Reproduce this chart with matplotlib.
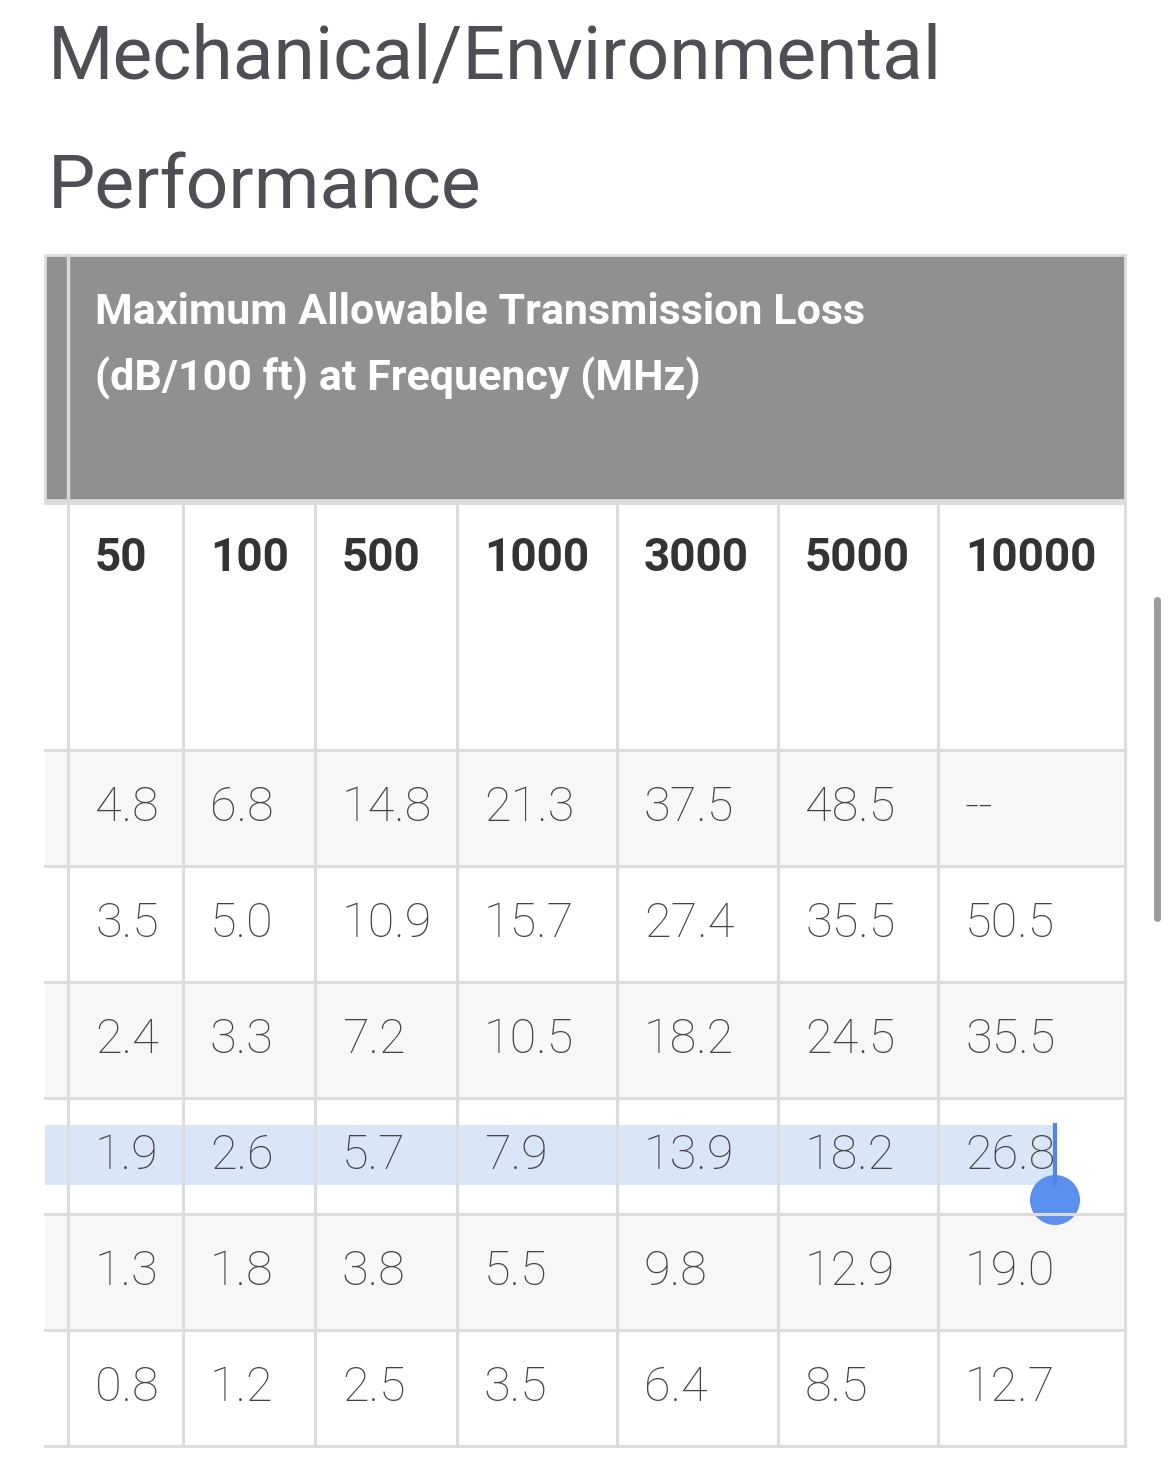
import matplotlib.pyplot as plt
from matplotlib.patches import Rectangle, Circle

# --------------------------
# Dados da tabela
# --------------------------
TITLE_LINES = ["Mechanical/Environmental", "Performance"]
HEADER_LINES = ["Maximum Allowable Transmission Loss", "(dB/100 ft) at Frequency (MHz)"]
FREQS = ["50", "100", "500", "1000", "3000", "5000", "10000"]
ROW1 = ["4.8", "6.8", "14.8", "21.3", "37.5", "48.5", "--"]
ROW2 = ["3.5", "5.0", "10.9", "15.7", "27.4", "35.5", "50.5"]
ROW3 = ["2.4", "3.3", "7.2", "10.5", "18.2", "24.5", "35.5"]
ROW4 = ["1.9", "2.6", "5.7", "7.9", "13.9", "18.2", "26.8"]
ROW5 = ["1.3", "1.8", "3.8", "5.5", "9.8", "12.9", "19.0"]
ROW6 = ["0.8", "1.2", "2.5", "3.5", "6.4", "8.5", "12.7"]
ROWS = [ROW1, ROW2, ROW3, ROW4, ROW5, ROW6]

# layout (pixels)
W, H = 1170, 1468
COL_X = [68, 183, 315, 457, 617, 778, 938, 1125]
LEFT = 45
ROW_Y = [750, 866, 982, 1098, 1214, 1330, 1446]
GRID = "#dcdcdc"
TXT = "#444444"

fig = plt.figure(figsize=(W / 100, H / 100), dpi=100)
ax = fig.add_axes([0, 0, 1, 1])
ax.set_xlim(0, W)
ax.set_ylim(H, 0)
ax.axis("off")

ax.text(48, 58, TITLE_LINES[0], fontsize=54, family="Roboto", color="#4d4f55", va="center")
ax.text(48, 188, TITLE_LINES[1], fontsize=54, family="Roboto", color="#4d4f55", va="center")

# cabeçalho cinza
ax.add_patch(Rectangle((LEFT, 255), 1125 - LEFT, 245, facecolor="#8f908f", edgecolor=GRID, lw=2))
ax.plot([68, 68], [255, 500], color="#d8d8d8", lw=2.5)
ax.text(95, 312, HEADER_LINES[0], fontsize=31, family="Roboto", weight="bold", color="white", va="center")
ax.text(95, 378, HEADER_LINES[1], fontsize=31, family="Roboto", weight="bold", color="white", va="center")

# linha de frequências
ax.add_patch(Rectangle((LEFT, 503), 1125 - LEFT, 247, facecolor="white", edgecolor="none"))
for i, f in enumerate(FREQS):
    ax.text(COL_X[i] + 27, 558, f, fontsize=33, family="Roboto", weight="bold", color="#333333", va="center")

# linhas de dados
for r, row in enumerate(ROWS):
    y0, y1 = ROW_Y[r], ROW_Y[r + 1]
    bg = "#f7f7f7" if r % 2 == 0 else "white"
    ax.add_patch(Rectangle((LEFT, y0), 1125 - LEFT, y1 - y0, facecolor=bg, edgecolor="none"))
    if r == 3:
        ax.add_patch(Rectangle((LEFT, 1125), 1055 - LEFT, 60, facecolor="#d8e6f8", edgecolor="none"))
    for i, v in enumerate(row):
        ax.text(COL_X[i] + 27, (y0 + y1) / 2, v, fontsize=35, family="Roboto", weight="light",
                color=TXT, va="center")

# grade
for x in COL_X:
    ax.plot([x, x], [503, ROW_Y[-1]], color=GRID, lw=2.2)
for y in [503] + ROW_Y:
    ax.plot([LEFT, 1125], [y, y], color=GRID, lw=2.2)

# cursor e barra de rolagem
ax.plot([1055, 1055], [1125, 1185], color="#4f86e8", lw=3)
ax.add_patch(Circle((1055, 1200), 25, facecolor="#5b8ff0", edgecolor="none"))
ax.plot([1157, 1157], [600, 918], color="#9a9a9a", lw=5, solid_capstyle="round")

fig.savefig("out.png", dpi=100)
